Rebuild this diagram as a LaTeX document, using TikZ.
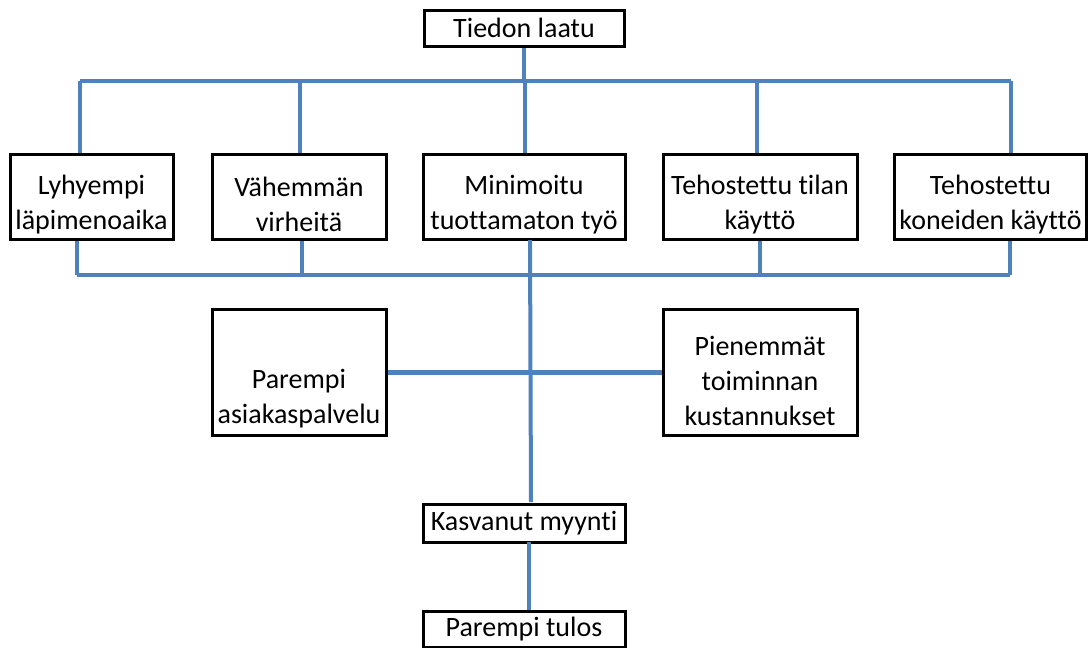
\documentclass[tikz,border=0pt]{standalone}
\usepackage{fontspec}
\setmainfont[Ligatures=NoCommon]{Carlito}
\definecolor{linkblue}{RGB}{79,129,189}
\begin{document}
\begin{tikzpicture}[x=1pt,y=-1pt,
  box/.style={draw=black, line width=3pt, fill=white, inner sep=0pt},
  txt/.style={align=center, inner sep=0pt, font=\fontsize{28}{35}\selectfont},
  bus/.style={draw=linkblue, line width=4pt},
  busthick/.style={draw=linkblue, line width=5pt}]
\useasboundingbox (0,0) rectangle (1088,648);

% top of the chart
\node[box, minimum width=200, minimum height=36] (t) at (524,28) {};
\node[txt] (tt) at (t.center) {Tiedon laatu};

% row of five effects
\node[box, minimum width=163, minimum height=85] (b1) at (91.5,196.5) {};
\node[box, minimum width=174, minimum height=85] (b2) at (299,196.5) {};
\node[box, minimum width=202, minimum height=85] (b3) at (524,196.5) {};
\node[box, minimum width=194, minimum height=85] (b4) at (760,196.5) {};
\node[box, minimum width=192, minimum height=85] (b5) at (990.5,196.5) {};
\node[txt] (b1t) at ([yshift=-8]b1.center) {Lyhyempi\\läpimenoaika};
\node[txt] (b2t) at ([yshift=-8]b2.center) {Vähemmän\\virheitä};
\node[txt] (b3t) at ([yshift=-8]b3.center) {Minimoitu\\tuottamaton työ};
\node[txt] (b4t) at ([yshift=-8]b4.center) {Tehostettu tilan\\käyttö};
\node[txt] (b5t) at ([yshift=-8]b5.center) {Tehostettu\\koneiden käyttö};

% middle pair
\node[box, minimum width=174, minimum height=126] (p1) at (299,372) {};
\node[box, minimum width=194, minimum height=126] (p2) at (760,372) {};
\node[txt] (p1t) at ([yshift=-27]p1.center) {Parempi\\asiakaspalvelu};
\node[txt] (p2t) at ([yshift=-9]p2.center) {Pienemmät\\toiminnan\\kustannukset};

% outcomes
\node[box, minimum width=202, minimum height=38] (k) at (524,523) {};
\node[txt] (kt) at (k.center) {Kasvanut myynti};
\node[box, minimum width=202, minimum height=36] (r) at (524,629) {};
\node[txt] (rt) at (r.center) {Parempi tulos};

% upper distribution bus
\coordinate (u1) at (80,81);
\coordinate (u2) at (300,81);
\coordinate (u3) at (525,81);
\coordinate (u4) at (757,81);
\coordinate (u5) at (1011,81);
\draw[bus] (u1) -- (u5);
\draw[bus] (t.south) -- (t.south |- u3);
\foreach \i in {1,...,5} {
  \draw[bus] (u\i) -- (u\i |- b\i.north);
}

% lower collecting bus
\coordinate (d1) at (77,275);
\coordinate (d2) at (302,275);
\coordinate (d3) at (530,275);
\coordinate (d4) at (760,275);
\coordinate (d5) at (1010,275);
\draw[bus] (d1) -- (d5);
\foreach \i in {1,2,4,5} {
  \draw[bus] (d\i) -- (d\i |- b\i.south);
}
\coordinate (c3) at (530,240);
\coordinate (ck) at (531,502);
\draw[bus] (c3) -- (ck);

% cross link between the middle pair
\draw[busthick] (p1.east) -- (p2.west);

% from sales to result
\coordinate (kr) at (529,542);
\draw[bus] (kr) -- (kr |- r.north);
\end{tikzpicture}
\end{document}
